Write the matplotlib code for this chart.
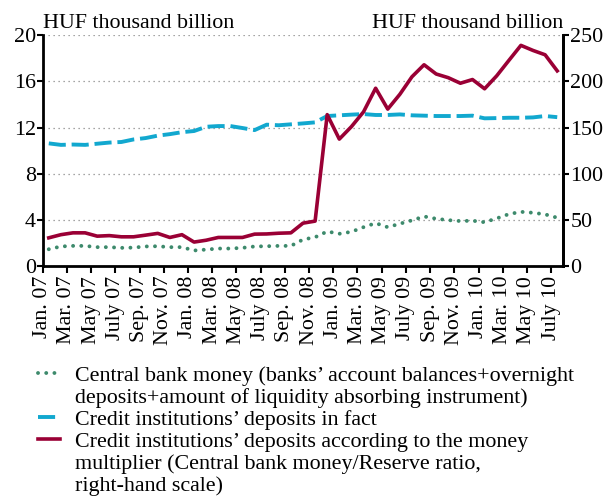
import numpy as np
import matplotlib
matplotlib.use("Agg")
import matplotlib.pyplot as plt
from matplotlib.lines import Line2D

plt.rcParams['font.family'] = ['Liberation Serif', 'DejaVu Serif']

# monthly data, Jan 2007 - Jul 2010
tick_labels = ["Jan. 07", "Mar. 07", "May 07", "July 07", "Sep. 07", "Nov. 07",
               "Jan. 08", "Mar. 08", "May 08", "July 08", "Sep. 08", "Nov. 08",
               "Jan. 09", "Mar. 09", "May 09", "July 09", "Sep. 09", "Nov. 09",
               "Jan. 10", "Mar. 10", "May 10", "July 10"]

central_bank_money = [1.46, 1.70, 1.75, 1.75, 1.64, 1.64, 1.58, 1.60, 1.70, 1.72, 1.64,
                      1.64, 1.35, 1.43, 1.52, 1.52, 1.58, 1.70, 1.72, 1.75, 1.75, 2.30,
                      2.50, 3.00, 2.80, 2.97, 3.37, 3.72, 3.37, 3.67, 3.96, 4.30, 4.10,
                      3.98, 3.90, 3.93, 3.80, 4.13, 4.50, 4.70, 4.62, 4.48, 4.19]

deposits_fact = [10.63, 10.50, 10.53, 10.50, 10.60, 10.70, 10.75, 10.97, 11.09, 11.30, 11.43,
                 11.60, 11.70, 12.07, 12.13, 12.13, 11.96, 11.78, 12.25, 12.20, 12.28, 12.36,
                 12.45, 13.00, 13.06, 13.12, 13.17, 13.09, 13.09, 13.14, 13.06, 13.03, 13.00,
                 13.00, 13.00, 13.03, 12.80, 12.82, 12.85, 12.85, 12.88, 13.00, 12.90]

deposits_multiplier = [30.6, 34, 36, 36, 32.4, 33, 31.7, 31.7, 33.5, 35.4, 31,
                       34, 26, 28, 31, 31, 31, 34.6, 34.8, 35.6, 36, 46.5,
                       48.7, 164, 137.5, 151, 167, 192.6, 170, 186, 205, 218, 208,
                       204, 198, 202, 192, 206, 222.6, 239, 233.5, 228.8, 211.4]

legend_labels = [
    ["Central bank money (banks\u2019 account balances+overnight",
     "deposits+amount of liquidity absorbing instrument)"],
    ["Credit institutions\u2019 deposits in fact"],
    ["Credit institutions\u2019 deposits according to the money",
     "multiplier (Central bank money/Reserve ratio,",
     "right-hand scale)"],
]

GREEN = "#3d8a6c"
BLUE = "#12a8cf"
RED = "#9a0035"
FS = 15.8

x = np.arange(len(central_bank_money))

fig = plt.figure(figsize=(6.06, 5.03), dpi=100)
ax = fig.add_axes([0.0705, 0.471, 0.859, 0.459])
ax2 = ax.twinx()

l1, = ax.plot(x, central_bank_money, color=GREEN, lw=2.8, linestyle=(0, (0.01, 2.1)),
              dash_capstyle='round', zorder=3)
l2, = ax.plot(x, deposits_fact, color=BLUE, lw=2.8, linestyle=(0, (4.4, 1.5)), zorder=3)
l3, = ax2.plot(x, deposits_multiplier, color=RED, lw=2.6, zorder=3)

ax.set_xlim(-0.5, len(x) - 0.5)
ax.set_ylim(0, 20)
ax2.set_ylim(0, 250)
ax.set_yticks(np.arange(0, 21, 4))
ax2.set_yticks(np.arange(0, 251, 50))

ax.set_xticks(np.arange(len(tick_labels)) * 2 - 0.5)
ax.set_xticklabels(tick_labels, rotation=90, fontsize=FS)
ax.tick_params(axis='x', length=5, width=1.5, pad=2, direction='out')
ax.tick_params(axis='y', length=4, width=1.5, pad=1, labelsize=FS)
ax2.tick_params(axis='y', length=4, width=1.5, pad=1, labelsize=FS)

ax.grid(axis='y', linestyle=(0, (1, 3)), color='#888888', lw=0.9)
ax.set_axisbelow(True)

for a in (ax, ax2):
    a.spines['top'].set_visible(False)
    for s in ('left', 'right', 'bottom'):
        a.spines[s].set_linewidth(2)
ax2.spines['left'].set_visible(False)
ax2.spines['bottom'].set_visible(False)

ax.text(0, 1.008, "HUF thousand billion", transform=ax.transAxes, ha='left', va='bottom', fontsize=FS)
ax.text(1, 1.008, "HUF thousand billion", transform=ax.transAxes, ha='right', va='bottom', fontsize=FS)

# legend: handle on first line of each entry, continuation lines without handle
blank = Line2D([], [], color='none')
handles, texts = [], []
for h, lines in zip([l1, l2, l3], legend_labels):
    for k, t in enumerate(lines):
        handles.append(h if k == 0 else blank)
        texts.append(t)

fig.legend(handles, texts, loc='upper left', bbox_to_anchor=(0.062, 0.274),
           frameon=False, fontsize=FS, handlelength=1.0, handletextpad=0.7,
           labelspacing=0.08, borderpad=0, borderaxespad=0)

fig.savefig("out.png", dpi=100)
